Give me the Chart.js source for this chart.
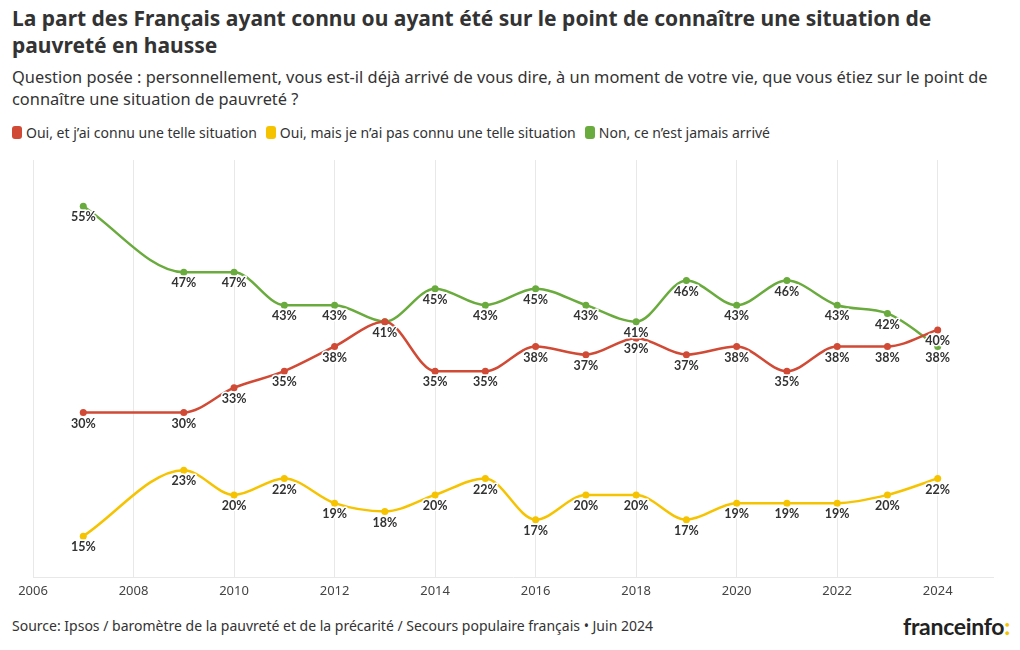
<!DOCTYPE html>
<html lang="fr">
<head>
<meta charset="utf-8">
<script src="https://cdn.jsdelivr.net/npm/chart.js@4/dist/chart.umd.min.js"></script>
<style>
  body { margin: 0; background: #fff; font-family: "Noto Sans", Lato, sans-serif; color: #333; }
  #wrap { position: relative; width: 1020px; height: 650px; overflow: hidden; }
  h1 { position: absolute; left: 12px; top: 5px; margin: 0; font-size: 21px; line-height: 27px; font-weight: 700; color: #333; width: 1000px; }
  .sub { position: absolute; left: 12px; top: 66px; margin: 0; font-size: 16.4px; line-height: 22px; color: #333; width: 1010px; }
  .legend { position: absolute; left: 12px; top: 123px; font-size: 14px; color: #333; display: flex; gap: 9px; }
  .legend span { display: inline-flex; align-items: center; }
  .legend i { display: inline-block; width: 10px; height: 13px; border-radius: 3px; margin-right: 4px; }
  #chartBox { position: absolute; left: 0; top: 150px; width: 1020px; height: 455px; }
  .source { position: absolute; left: 12px; top: 616px; font-size: 14px; color: #333; }
  .logo { position: absolute; right: 10px; top: 612px; font-family: Lato, sans-serif; font-size: 23px; font-weight: 700; color: #222; letter-spacing: -0.3px; }
  .logo b { color: #f5c400; }
</style>
</head>
<body>
<div id="wrap">
  <h1>La part des Français ayant connu ou ayant été sur le point de connaître une situation de<br>pauvreté en hausse</h1>
  <p class="sub">Question posée : personnellement, vous est-il déjà arrivé de vous dire, à un moment de votre vie, que vous étiez sur le point de<br>connaître une situation de pauvreté ?</p>
  <div class="legend" id="legend"></div>
  <div id="chartBox"><canvas id="chart"></canvas></div>
  <div class="source">Source: Ipsos / baromètre de la pauvreté et de la précarité / Secours populaire français • Juin 2024</div>
  <div class="logo">franceinfo<b>:</b></div>
</div>
<script>
// Years of the survey
const years = [2007, 2009, 2010, 2011, 2012, 2013, 2014, 2015, 2016, 2017, 2018, 2019, 2020, 2021, 2022, 2023, 2024];

// Tick labels on the x axis
const tickYears = [2006, 2008, 2010, 2012, 2014, 2016, 2018, 2020, 2022, 2024];

// Series values (%)
const ouiConnu = [30, 30, 33, 35, 38, 41, 35, 35, 38, 37, 39, 37, 38, 35, 38, 38, 40];
const ouiPasConnu = [15, 23, 20, 22, 19, 18, 20, 22, 17, 20, 20, 17, 19, 19, 19, 20, 22];
const nonJamais = [55, 47, 47, 43, 43, 41, 45, 43, 45, 43, 41, 46, 43, 46, 43, 42, 38];

const seriesNames = ['Oui, et j\u2019ai connu une telle situation', 'Oui, mais je n\u2019ai pas connu une telle situation', 'Non, ce n\u2019est jamais arrivé'];
const seriesColors = ['#d04a35', '#f6c300', '#6aab3d'];

// Build HTML legend
const legendEl = document.getElementById('legend');
seriesNames.forEach((name, i) => {
    const span = document.createElement('span');
    span.innerHTML = `<i style="background:${seriesColors[i]}"></i>${name}`;
    legendEl.appendChild(span);
});

// Labels drawn under each point, with a white halo
const pointLabels = {
    id: 'pointLabels',
    afterDatasetsDraw(chart) {
        const ctx = chart.ctx;
        ctx.save();
        ctx.font = 'bold 12.5px Lato, "Noto Sans", sans-serif';
        ctx.textAlign = 'center';
        ctx.textBaseline = 'top';
        ctx.lineJoin = 'round';
        chart.data.datasets.forEach((ds, di) => {
            const meta = chart.getDatasetMeta(di);
            meta.data.forEach((pt, i) => {
                // skip the duplicate 41% label in 2013
                if (di === 0 && years[i] === 2013) return;
                const txt = ds.data[i].y + '%';
                ctx.lineWidth = 3;
                ctx.strokeStyle = '#fff';
                ctx.strokeText(txt, pt.x, pt.y + 5);
                ctx.fillStyle = '#333';
                ctx.fillText(txt, pt.x, pt.y + 5);
            });
        });
        ctx.restore();
    }
};

function toPoints(values) {
    return values.map((v, i) => ({ x: years[i], y: v }));
}

const chart = new Chart(document.getElementById('chart'), {
    type: 'line',
    data: {
        datasets: [ouiConnu, ouiPasConnu, nonJamais].map((vals, i) => ({
            label: seriesNames[i],
            data: toPoints(vals),
            borderColor: seriesColors[i],
            backgroundColor: seriesColors[i],
            borderWidth: 2.5,
            pointRadius: 3.5,
            pointBorderWidth: 0,
            cubicInterpolationMode: 'monotone',
            fill: false
        }))
    },
    options: {
        responsive: true,
        maintainAspectRatio: false,
        animation: false,
        layout: { padding: { left: 33, right: 27, top: 10, bottom: 0 } },
        plugins: {
            legend: { display: false },
            tooltip: { enabled: false }
        },
        scales: {
            x: {
                type: 'linear',
                min: 2006,
                max: 2025.1,
                afterBuildTicks: (scale) => {
                    scale.ticks = tickYears.map(v => ({ value: v }));
                },
                ticks: {
                    color: '#444',
                    font: { family: '"Noto Sans", Lato, sans-serif', size: 13 },
                    padding: 6,
                    autoSkip: false,
                    maxRotation: 0,
                    callback: (v) => String(v)
                },
                grid: { color: '#e8e8e8', drawTicks: false },
                border: { color: '#e8e8e8' }
            },
            y: {
                display: false,
                min: 10,
                max: 60.6
            }
        }
    },
    plugins: [pointLabels]
});
</script>
</body>
</html>
